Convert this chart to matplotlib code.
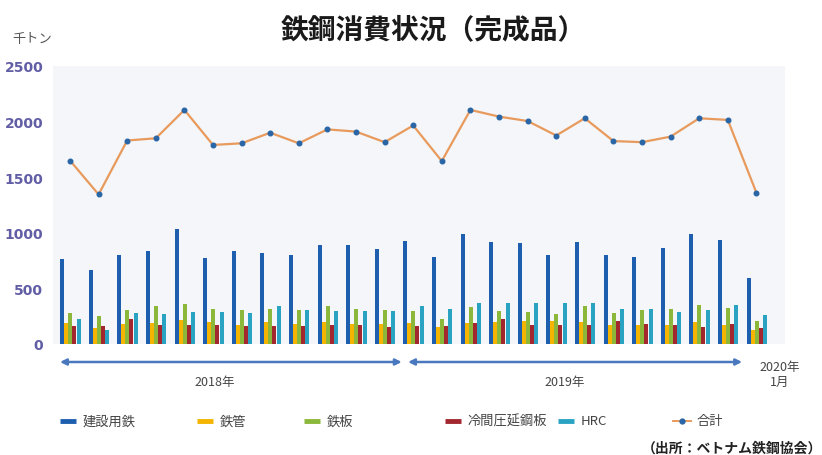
import matplotlib
matplotlib.use("Agg")
import matplotlib.pyplot as plt
from matplotlib.lines import Line2D
import numpy as np

plt.rcParams['font.family'] = ['Noto Sans CJK JP', 'DejaVu Sans']

months = ["2018-%02d" % m for m in range(1, 13)] + ["2019-%02d" % m for m in range(1, 13)] + ["2020-01"]

construction = [762, 665, 801, 837, 1038, 771, 834, 822, 801, 890, 890, 854,
                929, 780, 991, 920, 911, 798, 914, 801, 786, 860, 991, 934, 596]
pipe = [190, 140, 184, 190, 220, 199, 175, 199, 184, 199, 184, 184,
        193, 155, 190, 199, 208, 205, 199, 175, 175, 175, 199, 175, 130]
plate = [279, 249, 303, 338, 362, 317, 309, 317, 303, 338, 317, 309,
         300, 222, 333, 297, 288, 273, 338, 282, 303, 318, 353, 324, 205]
cold = [160, 160, 222, 172, 172, 172, 166, 166, 160, 172, 172, 155,
        166, 160, 190, 229, 175, 172, 172, 205, 184, 175, 155, 184, 145]
hrc = [222, 130, 282, 273, 288, 288, 282, 341, 309, 294, 294, 294,
       341, 311, 368, 368, 368, 368, 368, 317, 317, 288, 303, 353, 258]
total = [1650, 1345, 1830, 1850, 2105, 1790, 1805, 1900, 1805, 1930, 1910, 1815,
         1965, 1645, 2105, 2045, 2005, 1875, 2030, 1825, 1815, 1865, 2030, 2015, 1360]

series_names = ["建設用鉄", "鉄管", "鉄板", "冷間圧延鋼板", "HRC", "合計"]
colors = ["#1d5fae", "#f4b400", "#8bb83a", "#a3272f", "#2aa3c2"]
line_color = "#e89a5c"
marker_color = "#2a66a6"
tick_values = [0, 500, 1000, 1500, 2000, 2500]

fig = plt.figure(figsize=(8.22, 4.56), dpi=100)
ax = fig.add_axes([53/822, 1-345/456, 732/822, 278/456])
ax.set_facecolor("#f4f6fa")

x = np.arange(len(months))
offsets = [-0.27, -0.13, 0.01, 0.15, 0.30]
bw = 0.14
for vals, off, c in zip([construction, pipe, plate, cold, hrc], offsets, colors):
    ax.bar(x + off, vals, width=bw, color=c, edgecolor='none', zorder=2)

ax.plot(x, total, color=line_color, lw=1.6, zorder=3)
ax.plot(x, total, ls='none', marker='o', ms=3.3, color=marker_color, zorder=4)

ax.set_xlim((53-70)/28.6, (785-70)/28.6)
ax.set_ylim(0, 2500)
ax.set_yticks(tick_values)
ax.set_yticklabels([str(v) for v in tick_values], color="#625ea6", fontweight='bold', fontsize=10,
                   family=['DejaVu Sans'])
ax.tick_params(axis='y', length=0, pad=7)
ax.set_xticks([])
for s in ax.spines.values():
    s.set_visible(False)

# year arrows below axis
tr = ax.get_xaxis_transform()
arrow_y = -(363-345)/278
arrow_kw = dict(arrowstyle='<|-|>', color="#4a78bf", lw=1.8, mutation_scale=9, shrinkA=0, shrinkB=0)
ax.annotate('', xy=(11.6, arrow_y), xytext=(-0.35, arrow_y), xycoords=tr, textcoords=tr,
            arrowprops=arrow_kw, annotation_clip=False)
ax.annotate('', xy=(23.5, arrow_y), xytext=(11.82, arrow_y), xycoords=tr, textcoords=tr,
            arrowprops=arrow_kw, annotation_clip=False)
ax.text(5.07, -(383-345)/278, "2018年", transform=tr, ha='center', va='center', fontsize=9, color="#444444")
ax.text(17.3, -(383-345)/278, "2019年", transform=tr, ha='center', va='center', fontsize=9, color="#444444")
ax.text(24.8, -(375-345)/278, "2020年\n1月", transform=tr, ha='center', va='center', fontsize=9,
        color="#444444", linespacing=1.1)

# title and unit
fig.text(433/822, 1-30/456, "鉄鋼消費状況（完成品）", ha='center', va='center', fontsize=20,
         fontweight='bold', color="#1a1a1a")
fig.text(12/822, 1-40/456, "千トン", ha='left', va='center', fontsize=9.5, color="#555555")

# legend (manual)
leg_y = 1-422/456
marker_x = [68, 205, 312, 453, 566, 682]
for i, (name, mx) in enumerate(zip(series_names, marker_x)):
    if i < 5:
        fig.add_artist(Line2D([(mx-8)/822, (mx+8)/822], [leg_y, leg_y], color=colors[i], lw=3.5,
                              solid_capstyle='butt'))
    else:
        fig.add_artist(Line2D([(mx-9)/822, (mx+9)/822], [leg_y, leg_y], color=line_color, lw=1.4))
        fig.add_artist(Line2D([mx/822], [leg_y], marker='o', ms=3.5, color=marker_color, ls='none'))
    fig.text((mx+15)/822, leg_y, name, ha='left', va='center', fontsize=9.5, color="#444444")

fig.text(822/822, 1-449/456, "（出所：ベトナム鉄鋼協会）", ha='right', va='center', fontsize=10,
         fontweight='bold', color="#222222")

fig.savefig("out.png", dpi=100, facecolor='white')
